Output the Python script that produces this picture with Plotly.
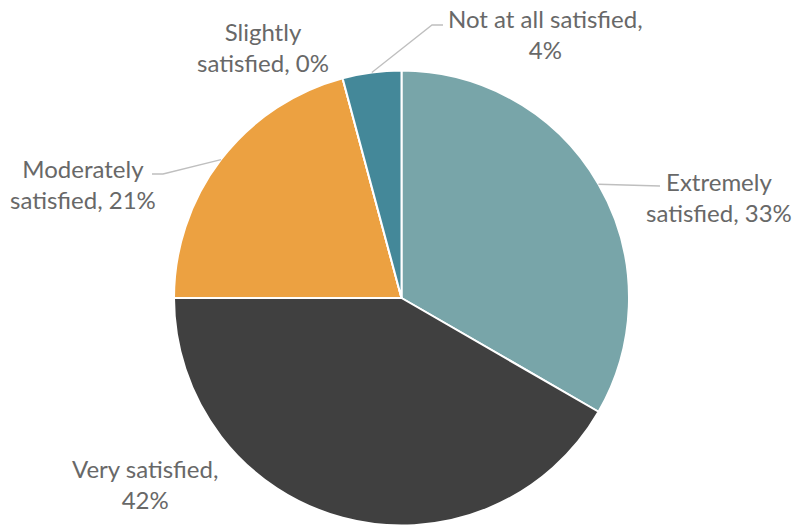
import math
import plotly.graph_objects as go

# Survey responses (counts), in clockwise order starting at 12 o'clock
categories = ["Extremely satisfied", "Very satisfied", "Moderately satisfied",
              "Slightly satisfied", "Not at all satisfied"]
counts = [8, 10, 5, 0, 1]
colors = ["#78A5A9", "#404040", "#ECA141", "#5E9BAA", "#448899"]

# Label text lines: first line of each "name, pct%" label
first_lines = ["Extremely", "Very satisfied,", "Moderately", "Slightly", "Not at all satisfied,"]

W, H = 798, 527
CX, CY, R = 401.5, 298.0, 227.5

# Label block centres (px) and leader-line elbows (px, None = no leader)
label_pos = [(719, 197), (145, 484), (83, 184), (263, 47), (545, 34)]
elbows = [[(660, 186)], None, [(163, 174), (152, 174)], None, [(432, 25), (443, 25)]]


def px(x, y):
    return x / W, 1 - y / H


total = sum(counts)
pcts = [round(100 * c / total) for c in counts]

fig = go.Figure(go.Pie(
    labels=categories,
    values=counts,
    sort=False,
    direction="clockwise",
    rotation=0,
    marker=dict(colors=colors, line=dict(color="white", width=2)),
    textinfo="none",
    hoverinfo="label+percent",
    showlegend=False,
    domain=dict(x=[(CX - R) / W, (CX + R) / W], y=[(H - CY - R) / H, (H - CY + R) / H]),
))

annotations = []
shapes = []
cum = 0
for name, first, c, p, pos, elb in zip(categories, first_lines, counts, pcts, label_pos, elbows):
    mid = (cum + c / 2) / total * 2 * math.pi
    cum += c
    if first.endswith(","):
        text = f"{first}<br>{p}%"
    else:
        rest = name[len(first):].strip()
        text = f"{first}<br>{rest}, {p}%"
    ax, ay = px(*pos)
    annotations.append(dict(x=ax, y=ay, xref="paper", yref="paper", text=text,
                            xanchor="center", yanchor="middle",
                            showarrow=False, align="center",
                            font=dict(family="Lato, Open Sans, sans-serif", size=24, color="#686868")))
    if elb:
        ex = CX + R * math.sin(mid)
        ey = CY - R * math.cos(mid)
        pts = [px(ex, ey)] + [px(*e) for e in elb]
        path = "M " + " L ".join(f"{x:.5f},{y:.5f}" for x, y in pts)
        shapes.append(dict(type="path", path=path, xref="paper", yref="paper",
                           line=dict(color="#BFBFBF", width=1.3)))

fig.update_layout(
    width=W, height=H,
    margin=dict(l=0, r=0, t=0, b=0),
    paper_bgcolor="white", plot_bgcolor="white",
    annotations=annotations, shapes=shapes,
)

fig.write_html("out.html")
